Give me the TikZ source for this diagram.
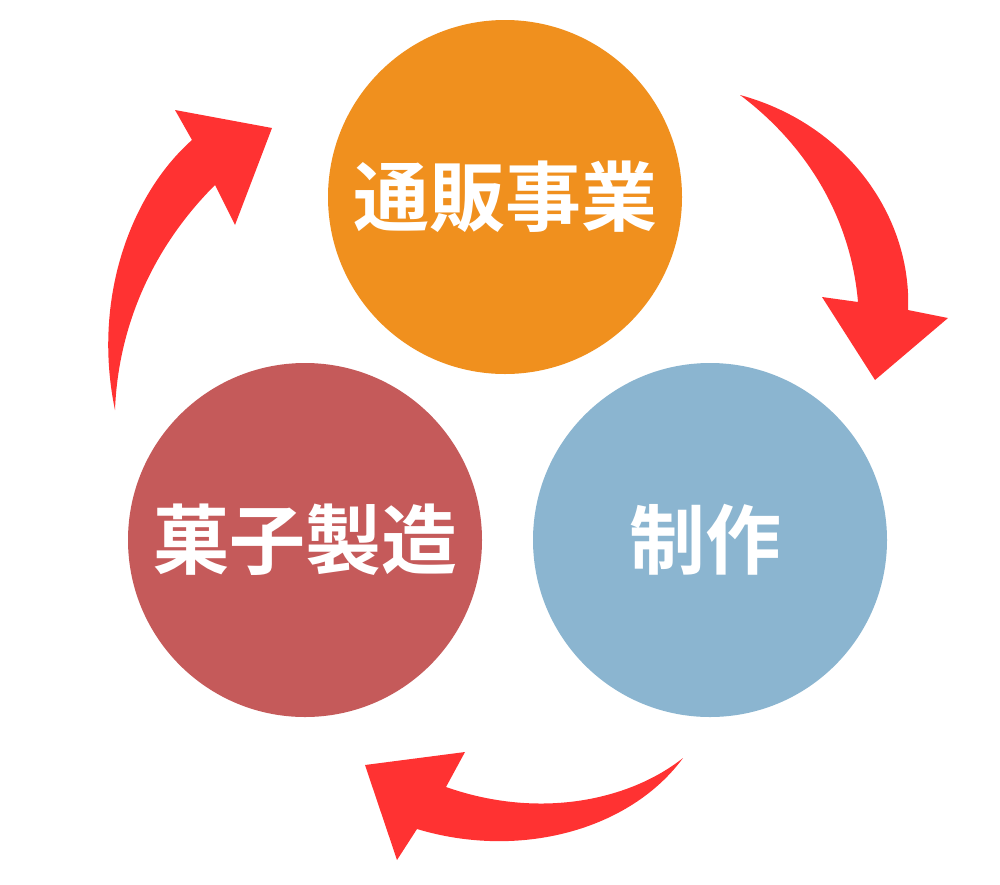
\documentclass[tikz,border=0pt]{standalone}
\usepackage{fontspec}
\newfontfamily\cjk{Noto Sans CJK JP}[BoldFont={Noto Sans CJK JP Bold}]
\begin{document}
\begin{tikzpicture}[x=1pt,y=-1pt,
  circ/.style={circle,minimum size=354pt,inner sep=0pt},
  lbl/.style={text=white,font=\cjk\bfseries\fontsize{76}{76}\selectfont},
  arr/.style={fill=arrred,draw=none}]
\definecolor{arrred}{HTML}{FF3232}
\definecolor{c1}{HTML}{F0901E}
\definecolor{c2}{HTML}{C55A5A}
\definecolor{c3}{HTML}{8BB5D0}
\useasboundingbox (0,0) rectangle (1000,884);
\node[circ,fill=c1] (top) at (505,197) {};
\node[circ,fill=c2] (left) at (305,540) {};
\node[circ,fill=c3] (right) at (710,540) {};
\node[lbl] at (top) {通販事業};
\node[lbl] at (left) {菓子製造};
\node[lbl] at ([xshift=-5pt]right) {制作};
% top-right arrow
\fill[arr] (740,95) .. controls (850,125) and (912,220) .. (908,310)
  -- (948,318) -- (875,380) -- (822,297) -- (858,302)
  .. controls (850,210) and (800,140) .. (740,95) -- cycle;
% left arrow
\fill[arr] (115,410) .. controls (92,300) and (130,195) .. (192,140)
  -- (175,110) -- (272,128) -- (235,225) -- (215,185)
  .. controls (150,250) and (118,330) .. (115,410) -- cycle;
% bottom arrow
\fill[arr] (683,758) .. controls (630,830) and (520,860) .. (417,829)
  -- (397,860) -- (365,765) -- (465,752) -- (446,787)
  .. controls (540,820) and (630,800) .. (683,758) -- cycle;
\end{tikzpicture}
\end{document}
